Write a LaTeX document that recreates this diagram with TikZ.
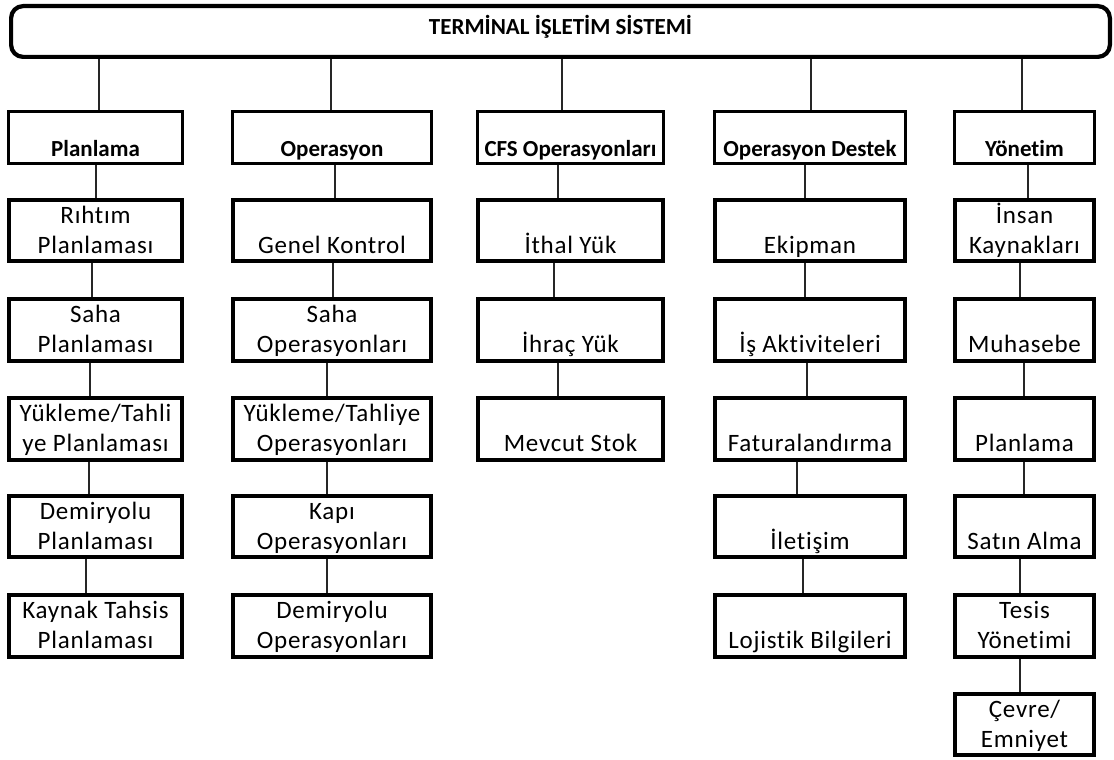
\documentclass[tikz,border=0pt]{standalone}
\usepackage{fontspec}
\setmainfont[Ligatures=NoCommon]{Carlito}
\newfontfamily\childfont[LetterSpace=3,Ligatures=NoCommon]{Carlito}
% struts that fix the baselines inside the boxes
\newcommand\itemstrut{\rule[-7.5pt]{0pt}{30pt}}
\newcommand\oneline[1]{\itemstrut\\\itemstrut #1}
\newcommand\twolines[2]{\itemstrut #1\\\itemstrut #2}
\newcommand\headstrut{\rule[-6pt]{0pt}{49pt}}
\tikzset{
  titlebox/.style={draw, line width=4.2pt, rounded corners=12pt, inner sep=0pt,
    minimum width=1098.8pt, minimum height=50.8pt,
    font=\bfseries\fontsize{23}{28}\selectfont},
  headbox/.style={draw, line width=3pt, inner sep=0pt, minimum height=52pt,
    minimum width=#1, font=\bfseries\fontsize{23}{28}\selectfont},
  itembox/.style={draw, line width=3.8pt, inner sep=0pt, minimum height=61.5pt,
    minimum width=#1, align=center, font=\childfont\fontsize{25}{30}\selectfont},
  conn/.style={line width=2pt, black!85},
}
\begin{document}
\begin{tikzpicture}[x=1pt,y=-1pt]
\useasboundingbox (0,0) rectangle (1114,760);

% system box
\node[titlebox] (top) at (560.5,31.5) {\rule[-14pt]{0pt}{33pt}TERMİNAL İŞLETİM SİSTEMİ};

% department headers
\node[headbox=174pt] (h1) at (95.5,137.5)  {\headstrut Planlama};
\node[headbox=199pt] (h2) at (332,137.5)   {\headstrut Operasyon};
\node[headbox=186pt] (h3) at (570.5,137.5) {\headstrut CFS Operasyonları};
\node[headbox=191pt] (h4) at (810,137.5)   {\headstrut Operasyon Destek};
\node[headbox=140pt] (h5) at (1024.5,137.5){\headstrut Yönetim};

% Planlama
\node[itembox=173.2pt] (a1) at (95.5,230.5) {\twolines{Rıhtım}{Planlaması}};
\node[itembox=173.2pt] (a2) at (95.5,330)   {\twolines{Saha}{Planlaması}};
\node[itembox=173.2pt] (a3) at (95.5,429)   {\twolines{Yükleme/Tahli}{ye Planlaması}};
\node[itembox=173.2pt] (a4) at (95.5,526.5) {\twolines{Demiryolu}{Planlaması}};
\node[itembox=173.2pt] (a5) at (95.5,626)   {\twolines{Kaynak Tahsis}{Planlaması}};

% Operasyon
\node[itembox=198.2pt] (b1) at (332,230.5) {\oneline{Genel Kontrol}};
\node[itembox=198.2pt] (b2) at (332,330)   {\twolines{Saha}{Operasyonları}};
\node[itembox=198.2pt] (b3) at (332,429)   {\twolines{Yükleme/Tahliye}{Operasyonları}};
\node[itembox=198.2pt] (b4) at (332,526.5) {\twolines{Kapı}{Operasyonları}};
\node[itembox=198.2pt] (b5) at (332,626)   {\twolines{Demiryolu}{Operasyonları}};

% CFS Operasyonlari
\node[itembox=185.2pt] (c1) at (570.5,230.5) {\oneline{İthal Yük}};
\node[itembox=185.2pt] (c2) at (570.5,330)   {\oneline{İhraç Yük}};
\node[itembox=185.2pt] (c3) at (570.5,429)   {\oneline{Mevcut Stok}};

% Operasyon Destek
\node[itembox=190.2pt] (d1) at (810,230.5) {\oneline{Ekipman}};
\node[itembox=190.2pt] (d2) at (810,330)   {\oneline{İş Aktiviteleri}};
\node[itembox=190.2pt] (d3) at (810,429)   {\oneline{Faturalandırma}};
\node[itembox=190.2pt] (d4) at (810,526.5) {\oneline{İletişim}};
\node[itembox=190.2pt] (d5) at (810,626)   {\oneline{Lojistik Bilgileri}};

% Yonetim
\node[itembox=139.2pt] (e1) at (1024.5,230.5) {\twolines{İnsan}{Kaynakları}};
\node[itembox=139.2pt] (e2) at (1024.5,330)   {\oneline{Muhasebe}};
\node[itembox=139.2pt] (e3) at (1024.5,429)   {\oneline{Planlama}};
\node[itembox=139.2pt] (e4) at (1024.5,526.5) {\oneline{Satın Alma}};
\node[itembox=139.2pt] (e5) at (1024.5,626)   {\twolines{Tesis}{Yönetimi}};
\node[itembox=139.2pt] (e6) at (1024.5,724.5) {\twolines{Çevre/}{Emniyet}};

% system box to headers
\draw[conn] ([xshift=3.5pt]h1.north)  -- ([xshift=3.5pt]h1.north |- top.south);
\draw[conn] ([xshift=-1pt]h2.north)   -- ([xshift=-1pt]h2.north |- top.south);
\draw[conn] ([xshift=-8.5pt]h3.north) -- ([xshift=-8.5pt]h3.north |- top.south);
\draw[conn] ([xshift=1pt]h4.north)    -- ([xshift=1pt]h4.north |- top.south);
\draw[conn] ([xshift=-2.5pt]h5.north) -- ([xshift=-2.5pt]h5.north |- top.south);

% chains inside each column
\foreach \u/\v/\dx in {h1/a1/0.5, a1/a2/-3.5, a2/a3/-5.5, a3/a4/-6.5, a4/a5/-9.5,
                       h2/b1/3, b1/b2/1, b2/b3/-5, b3/b4/-5, b4/b5/-5,
                       h3/c1/-12.5, c1/c2/-16.5, c2/c3/-12.5,
                       h4/d1/-5, d1/d2/-5, d2/d3/-3, d3/d4/-13, d4/d5/-7,
                       h5/e1/3, e1/e2/-4.5, e2/e3/-0.5, e3/e4/-0.5, e4/e5/-4.5, e5/e6/-4.5}
  \draw[conn] ([xshift=\dx pt]\u.south) -- ([xshift=\dx pt]\u.south |- \v.north);
\end{tikzpicture}
\end{document}
